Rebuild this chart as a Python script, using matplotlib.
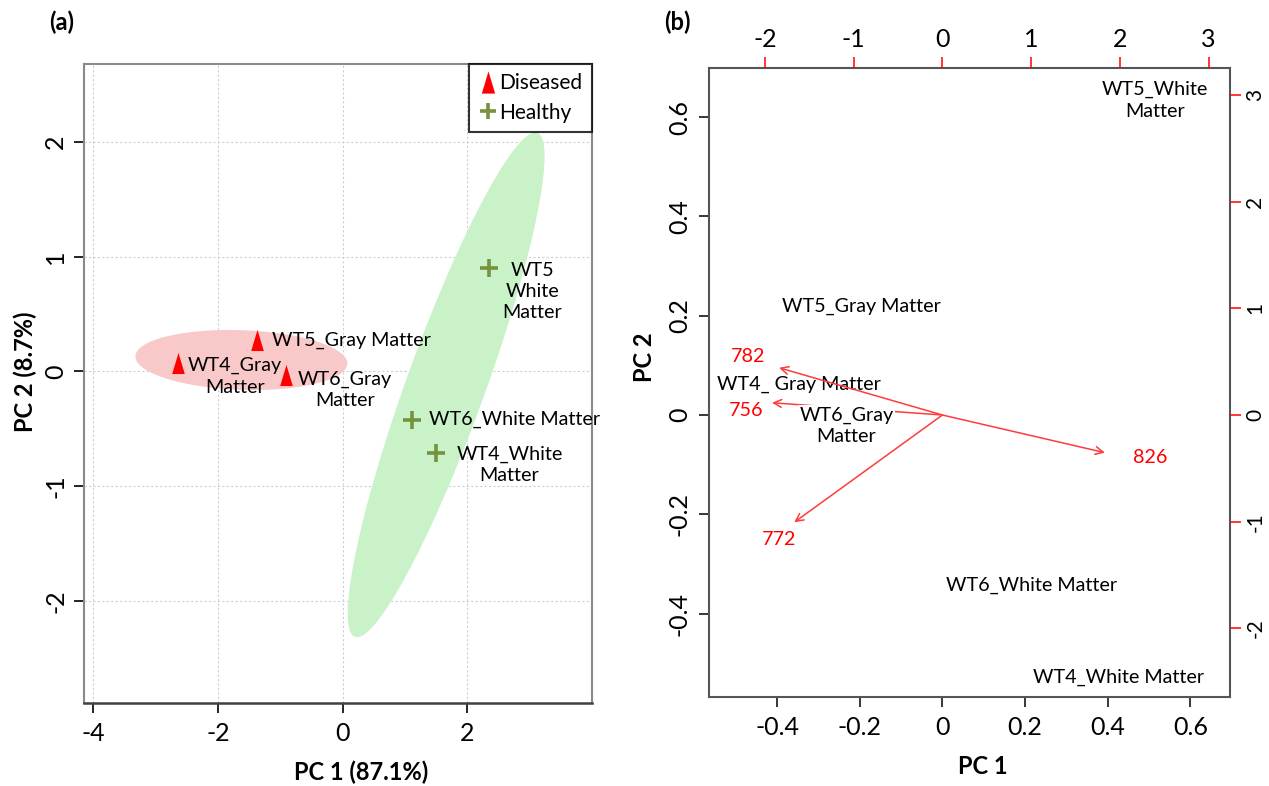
import numpy as np
import matplotlib
matplotlib.use('Agg')
import matplotlib.pyplot as plt
from matplotlib.lines import Line2D
from matplotlib.path import Path

plt.rcParams['font.family'] = ['Lato', 'DejaVu Sans']
plt.rcParams['axes.unicode_minus'] = False

# ---- panel (a): PCA scores ----
dis_names = ['WT5_Gray Matter', 'WT4_Gray\nMatter', 'WT6_Gray\nMatter']
dis_pc1 = [-1.37, -2.64, -0.91]
dis_pc2 = [0.275, 0.07, -0.03]

hea_names = ['WT5\nWhite\nMatter', 'WT6_White Matter', 'WT4_White\nMatter']
hea_pc1 = [2.35, 1.11, 1.49]
hea_pc2 = [0.905, -0.42, -0.71]

# ellipses: centre, conjugate half-axes (data units)
ell_dis = dict(c=(-1.625, 0.10), a=(1.70, -0.03), b=(0.0, 0.26))
ell_hea = dict(c=(1.66, -0.117), a=(1.43, 2.20), b=(0.67, 0.0))

# ---- panel (b): biplot ----
smp_names = ['WT5_White\nMatter', 'WT5_Gray Matter', 'WT4_ Gray Matter',
             'WT6_Gray\nMatter', 'WT6_White Matter', 'WT4_White Matter']
smp_pc1 = [0.515, -0.195, -0.347, -0.232, 0.215, 0.427]
smp_pc2 = [0.634, 0.218, 0.062, -0.022, -0.344, -0.528]

var_names = ['782', '756', '772', '826']
var_tip1 = [-1.84, -1.92, -1.67, 1.83]
var_tip2 = [0.443, 0.115, -1.006, -0.353]
var_lab1 = [-2.19, -2.21, -1.84, 2.34]
var_lab2 = [0.553, 0.04, -1.165, -0.40]
K = 4.655  # ratio between loading axes and score axes

W, H = 1269, 786
fig = plt.figure(figsize=(W / 100, H / 100), dpi=100)

def fpos(l, t, r, b):
    return [l / W, 1 - b / H, (r - l) / W, (b - t) / H]

tri = Path([(-0.3, -0.5), (0.3, -0.5), (0.0, 0.5), (-0.3, -0.5)],
           [Path.MOVETO, Path.LINETO, Path.LINETO, Path.CLOSEPOLY])
green = '#76923c'
LFS = 14.2   # point label size
TFS = 18     # tick label size

def ellipse(ax, e, color):
    t = np.linspace(0, 2 * np.pi, 200)
    x = e['c'][0] + np.cos(t) * e['a'][0] + np.sin(t) * e['b'][0]
    y = e['c'][1] + np.cos(t) * e['a'][1] + np.sin(t) * e['b'][1]
    ax.fill(x, y, color=color, lw=0, zorder=1)

ax = fig.add_axes(fpos(84, 64, 592, 703))
ax.set_xlim(-4.15, 4.0)
ax.set_ylim(-2.89, 2.68)
ax.set_xticks([-4, -2, 0, 2])
ax.set_yticks([-2, -1, 0, 1, 2])
ax.grid(True, color='#cfcfcf', ls=(0, (2, 2)), lw=0.8, zorder=0)
ax.set_axisbelow(True)
ellipse(ax, ell_dis, '#f9c9c9')
ellipse(ax, ell_hea, '#c9f2c9')

ax.scatter(dis_pc1, dis_pc2, marker=tri, s=230, color='red', lw=0, zorder=3)
ax.scatter(hea_pc1, hea_pc2, marker='+', s=150, color=green, lw=2.6, zorder=3)

dis_off = [(15, 0, 'left'), (57, -13, 'center'), (59, -15, 'center')]
hea_off = [(43, -24, 'center'), (17, 0, 'left'), (74, -12, 'center')]
for n, x, y, (dx, dy, ha) in zip(dis_names + hea_names, dis_pc1 + hea_pc1,
                                 dis_pc2 + hea_pc2, dis_off + hea_off):
    ax.annotate(n, (x, y), xytext=(dx, dy), textcoords='offset pixels',
                ha=ha, va='center', fontsize=LFS, linespacing=1.3,
                multialignment='center', zorder=4)

for s in ['top', 'right', 'left']:
    ax.spines[s].set_color('#8a8a8a')
    ax.spines[s].set_linewidth(1.5)
ax.spines['bottom'].set_color('#404040')
ax.spines['bottom'].set_linewidth(1.8)
ax.tick_params(axis='both', length=7, width=1.2, labelsize=TFS)
ax.tick_params(axis='x', pad=7)
ax.tick_params(axis='y', labelrotation=90, pad=5)
for lb in ax.get_yticklabels():
    lb.set_va('center')

handles = [Line2D([], [], marker=tri, color='red', ls='', markersize=16, mew=0),
           Line2D([], [], marker='+', color=green, ls='', markersize=12, mew=2.6)]
leg = ax.legend(handles, ['Diseased', 'Healthy'], loc='upper right',
                fontsize=15, frameon=True, fancybox=False, borderaxespad=0,
                handletextpad=0.1, handlelength=0.9, borderpad=0.45,
                labelspacing=0.45)
leg.get_frame().set_edgecolor('black')
leg.get_frame().set_linewidth(1.5)

fig.text(361 / W, 1 - 772 / H, 'PC 1 (87.1%)', ha='center', va='center',
         fontsize=17, fontweight='bold')
fig.text(25 / W, 1 - 372 / H, 'PC 2 (8.7%)', ha='center', va='center',
         fontsize=17, fontweight='bold', rotation=90)
fig.text(62 / W, 1 - 22 / H, '(a)', ha='center', va='center',
         fontsize=17, fontweight='bold')

# ---- panel (b) ----
bx = fig.add_axes(fpos(709, 68, 1230, 697))
bx.set_xlim(-0.565, 0.696)
bx.set_ylim(-0.568, 0.699)
bx.set_xticks([-0.4, -0.2, 0, 0.2, 0.4, 0.6])
bx.set_xticklabels(['-0.4', '-0.2', '0', '0.2', '0.4', '0.6'])
bx.set_yticks([-0.4, -0.2, 0, 0.2, 0.4, 0.6])
bx.set_yticklabels(['-0.4', '-0.2', '0', '0.2', '0.4', '0.6'])
bx.tick_params(axis='both', length=7, width=1.1, labelsize=TFS)
bx.tick_params(axis='x', pad=7)
bx.tick_params(axis='y', labelrotation=90, pad=6)
for lb in bx.get_yticklabels():
    lb.set_va('center')
for s in bx.spines.values():
    s.set_color('#555555')
    s.set_linewidth(1.5)

bx2 = fig.add_axes(bx.get_position(), frameon=False)
bx2.set_xlim(np.array(bx.get_xlim()) * K)
bx2.set_ylim(np.array(bx.get_ylim()) * K)
bx2.patch.set_visible(False)
bx2.xaxis.tick_top()
bx2.yaxis.tick_right()
bx2.set_xticks([-2, -1, 0, 1, 2, 3])
bx2.set_yticks([-2, -1, 0, 1, 2, 3])
bx2.tick_params(axis='both', length=8, width=1.1, color='red', labelsize=TFS)
bx2.tick_params(axis='x', pad=4)
bx2.tick_params(axis='y', labelrotation=90, pad=3, labelsize=15)
for lb in bx2.get_yticklabels():
    lb.set_va('center')

for n, tx, ty, lx, ly in zip(var_names, var_tip1, var_tip2, var_lab1, var_lab2):
    bx2.annotate('', xy=(tx, ty), xytext=(0, 0),
                 arrowprops=dict(arrowstyle='->', color='#ff3b3b', lw=1.1,
                                 mutation_scale=14, shrinkA=0, shrinkB=0))
    bx2.text(lx, ly, n, color='red', ha='center', va='center', fontsize=LFS)

for n, x, y in zip(smp_names, smp_pc1, smp_pc2):
    kw = {}
    if n == 'WT6_Gray\nMatter':
        kw['bbox'] = dict(facecolor='white', edgecolor='none', pad=1)
    bx2.text(x, y, n, transform=bx.transData, ha='center', va='center',
             fontsize=LFS, linespacing=1.3, multialignment='center',
             zorder=4 if kw else 1, **kw)

fig.text(983 / W, 1 - 766 / H, 'PC 1', ha='center', va='center',
         fontsize=17, fontweight='bold')
fig.text(645 / W, 1 - 357 / H, 'PC 2', ha='center', va='center',
         fontsize=17, fontweight='bold', rotation=90)
fig.text(677 / W, 1 - 22 / H, '(b)', ha='center', va='center',
         fontsize=17, fontweight='bold')

fig.savefig('out.png', dpi=100)
